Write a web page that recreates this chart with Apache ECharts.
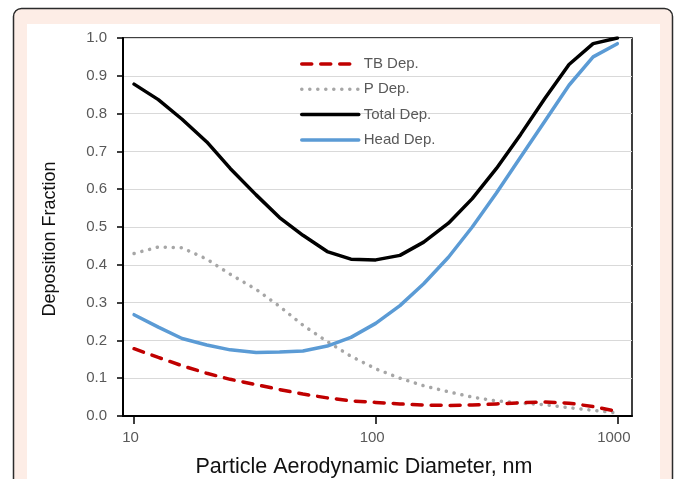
<!DOCTYPE html>
<html>
<head>
<meta charset="utf-8">
<script src="https://cdn.jsdelivr.net/npm/echarts@6/dist/echarts.min.js"></script>
<style>
html,body{margin:0;padding:0;background:#fff;}
#c{width:677px;height:479px;}
</style>
</head>
<body>
<div id="c"></div>
<script>
// Particle aerodynamic diameter, nm
const diameters = [10, 12.6, 15.8, 20, 25, 32, 40, 50, 63, 79, 100, 126, 158, 200, 251, 316, 398, 501, 631, 794, 1000];
const tbDep    = [0.178, 0.155, 0.133, 0.113, 0.097, 0.083, 0.070, 0.058, 0.048, 0.040, 0.036, 0.032, 0.029, 0.028, 0.029, 0.032, 0.035, 0.037, 0.034, 0.025, 0.012];
const pDep     = [0.430, 0.447, 0.445, 0.415, 0.375, 0.335, 0.290, 0.240, 0.197, 0.158, 0.125, 0.100, 0.080, 0.064, 0.050, 0.040, 0.034, 0.030, 0.022, 0.015, 0.008];
const totalDep = [0.878, 0.837, 0.785, 0.725, 0.655, 0.585, 0.525, 0.478, 0.435, 0.415, 0.413, 0.425, 0.460, 0.510, 0.575, 0.655, 0.745, 0.840, 0.930, 0.985, 1.000];
const headDep  = [0.268, 0.235, 0.205, 0.188, 0.175, 0.168, 0.169, 0.172, 0.185, 0.208, 0.245, 0.292, 0.350, 0.420, 0.500, 0.590, 0.685, 0.780, 0.875, 0.950, 0.985];
const xTickLabels = [10, 100, 1000];
const seriesNames = ['TB Dep.', 'P Dep.', 'Total Dep.', 'Head Dep.'];

const pairs = arr => diameters.map((d, i) => [d, arr[i]]);
const FONT = '"Liberation Sans", Arial, sans-serif';

const chart = echarts.init(document.getElementById('c'), null, {renderer: 'canvas'});
chart.setOption({
  animation: false,
  textStyle: {fontFamily: FONT},
  graphic: [
    {type: 'rect', z: -10, shape: {x: 13.5, y: 8.5, width: 659, height: 520, r: 8},
     style: {fill: '#fdede6', stroke: '#2b2b2b', lineWidth: 1.5}},
    {type: 'rect', z: -9, shape: {x: 27, y: 24, width: 633, height: 520},
     style: {fill: '#ffffff'}}
  ],
  grid: {left: 123, top: 38, right: 45, bottom: 63, containLabel: false, outerBoundsMode: 'none',
         show: true, borderColor: '#000', borderWidth: 1.5, backgroundColor: 'transparent'},
  legend: {
    orient: 'vertical', left: 300, top: 56, padding: 0, itemWidth: 57, itemHeight: 16, itemGap: 9.3,
    textStyle: {color: '#595959', fontSize: 15, lineHeight: 16, fontFamily: FONT},
    itemStyle: {color: 'rgba(0,0,0,0)', borderWidth: 0, opacity: 0},
    lineStyle: {width: 3.5},
    data: seriesNames
  },
  xAxis: {
    type: 'log', min: 9, max: 1150, logBase: 10,
    name: 'Particle Aerodynamic Diameter, nm', nameLocation: 'middle', nameGap: 40,
    nameTextStyle: {color: '#111', fontSize: 21.5, fontFamily: FONT, padding: [0, 27, 0, 0]},
    axisLine: {onZero: false, lineStyle: {color: '#000', width: 2}},
    axisTick: {show: true, length: 8, lineStyle: {color: '#000', width: 1.5}, customValues: xTickLabels},
    axisLabel: {color: '#595959', fontSize: 15, margin: 14, padding: [0, 7, 0, 0], customValues: xTickLabels, formatter: v => String(Math.round(v))},
    splitLine: {show: false}, minorTick: {show: false}
  },
  yAxis: {
    type: 'value', min: 0, max: 1, interval: 0.1,
    name: 'Deposition Fraction', nameLocation: 'middle', nameGap: 64,
    nameTextStyle: {color: '#111', fontSize: 18, fontFamily: FONT, padding: [0, 24, 0, 0]},
    axisLine: {show: true, lineStyle: {color: '#000', width: 2}},
    axisTick: {show: true, length: 6, lineStyle: {color: '#000', width: 1.5}},
    axisLabel: {color: '#595959', fontSize: 15, margin: 16, formatter: v => v.toFixed(1)},
    splitLine: {show: true, lineStyle: {color: '#d9d9d9', width: 1}}
  },
  series: [
    {name: seriesNames[0], type: 'line', data: pairs(tbDep), symbol: 'none', z: 4,
     lineStyle: {color: '#c00000', width: 3.5, type: [10, 9], cap: 'round'}, itemStyle: {color: '#c00000'}},
    {name: seriesNames[1], type: 'line', data: pairs(pDep), symbol: 'none', z: 3,
     lineStyle: {color: '#a6a6a6', width: 3.5, type: [0.1, 7.9], cap: 'round'}, itemStyle: {color: '#a6a6a6'}},
    {name: seriesNames[2], type: 'line', data: pairs(totalDep), symbol: 'none', z: 5,
     lineStyle: {color: '#000', width: 3.5, cap: 'round', join: 'round'}, itemStyle: {color: '#000'}},
    {name: seriesNames[3], type: 'line', data: pairs(headDep), symbol: 'none', z: 5,
     lineStyle: {color: '#5b9bd5', width: 3.5, cap: 'round', join: 'round'}, itemStyle: {color: '#5b9bd5'}}
  ]
});
</script>
</body>
</html>
